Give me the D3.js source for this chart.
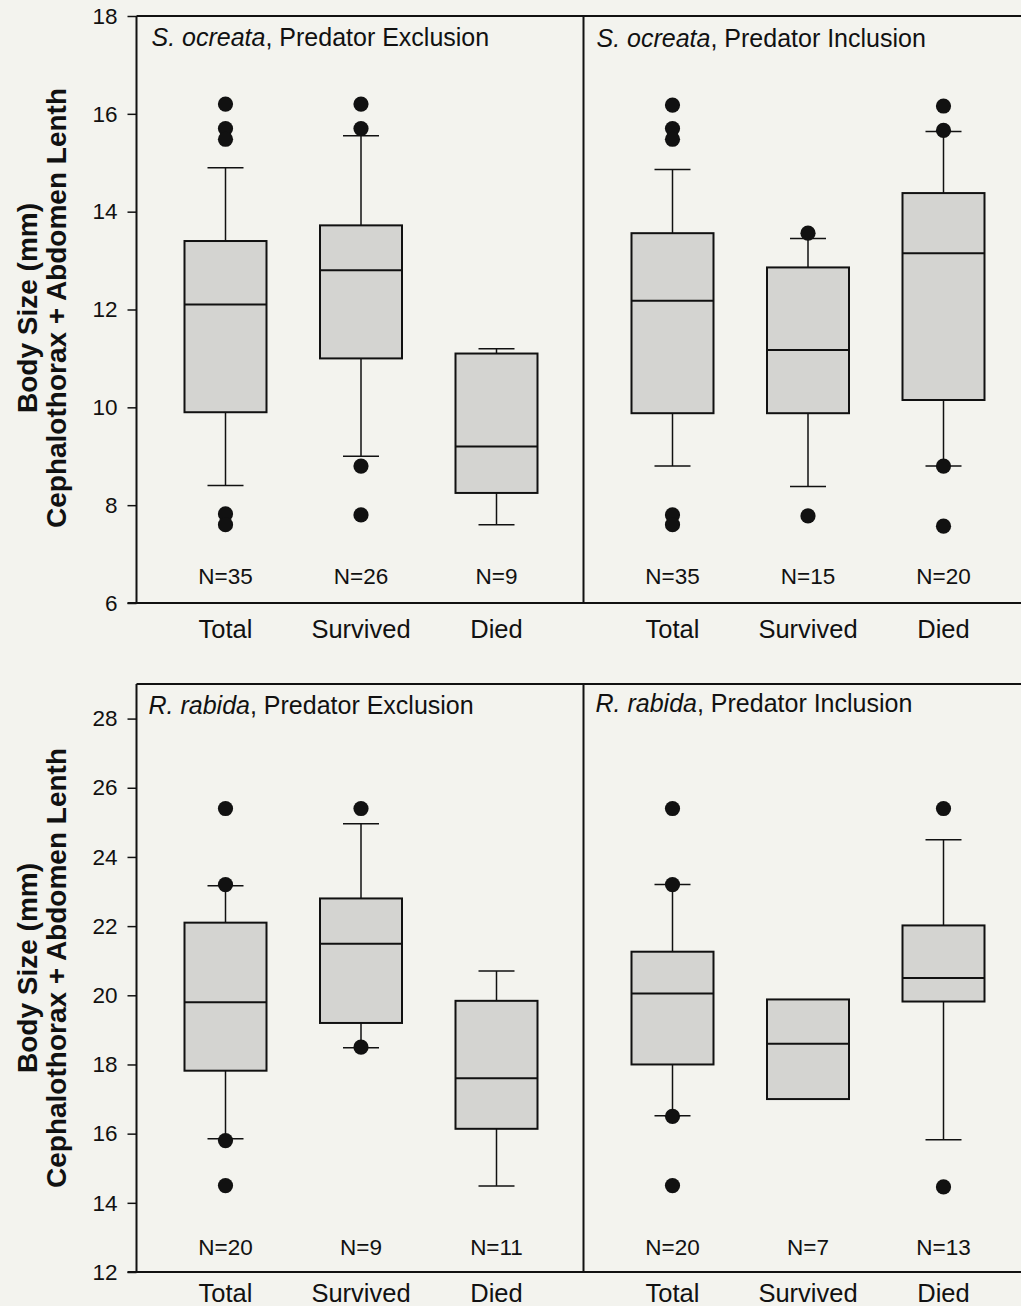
<!DOCTYPE html>
<html>
<head>
<meta charset="utf-8">
<script src="https://cdn.jsdelivr.net/npm/d3@7/dist/d3.min.js"></script>
<style>
  html, body { margin: 0; padding: 0; background: #f3f3ee; }
  svg { display: block; }
  text { font-family: "Liberation Sans", Arial, Helvetica, sans-serif; fill: #111; }
</style>
</head>
<body>
<svg id="chart" width="1021" height="1306"></svg>
<script>
// ---------------- DATA ----------------
const categories = ["Total", "Survived", "Died"];
const yTicksTop = [6, 8, 10, 12, 14, 16, 18];
const yTicksBottom = [12, 14, 16, 18, 20, 22, 24, 26, 28];
const yLabelLine1 = "Body Size (mm)";
const yLabelLine2 = "Cephalothorax + Abdomen Lenth";

// five-number box summaries per category: [lower whisker, Q1, median, Q3, upper whisker]
const soExclTitle = ["S. ocreata", ", Predator Exclusion"];
const soExclBox = [[8.4, 9.9, 12.1, 13.4, 14.9], [9.0, 11.0, 12.8, 13.72, 15.55], [7.6, 8.25, 9.2, 11.1, 11.2]];
const soExclOut = [[16.2, 15.7, 15.48, 7.82, 7.6], [16.2, 15.7, 8.8, 7.8], []];
const soExclN = [35, 26, 9];

const soInclTitle = ["S. ocreata", ", Predator Inclusion"];
const soInclBox = [[8.8, 9.88, 12.18, 13.56, 14.86], [8.38, 9.88, 11.17, 12.86, 13.45], [8.8, 10.15, 13.15, 14.38, 15.64]];
const soInclOut = [[16.18, 15.7, 15.48, 7.8, 7.6], [13.56, 7.78], [16.16, 15.66, 8.8, 7.57]];
const soInclN = [35, 15, 20];

const rrExclTitle = ["R. rabida", ", Predator Exclusion"];
const rrExclBox = [[15.85, 17.82, 19.8, 22.1, 23.17], [18.48, 19.2, 21.49, 22.8, 24.96], [14.49, 16.14, 17.6, 19.84, 20.7]];
const rrExclOut = [[25.4, 23.2, 15.8, 14.5], [25.4, 18.5], []];
const rrExclN = [20, 9, 11];

const rrInclTitle = ["R. rabida", ", Predator Inclusion"];
const rrInclBox = [[16.52, 18.0, 20.05, 21.26, 23.2], [17.0, 17.0, 18.6, 19.88, 19.88], [15.82, 19.82, 20.5, 22.02, 24.5]];
const rrInclOut = [[25.4, 23.2, 16.5, 14.5], [], [25.4, 14.46]];
const rrInclN = [20, 7, 13];

// ---------------- LAYOUT ----------------
const svg = d3.select("#chart");
const W = 1021;
const axisX = 136.5;
const subW = 447;
const boxW = 82;
const capW = 36;
const dotR = 7.6;
const boxFill = "#d4d4d1";
const ink = "#111";

const x = d3.scalePoint().domain(categories).range([89, 360]);

const rows = [
  { domain: [6, 18], range: [603, 16], ticks: yTicksTop, nY: 584, catY: 638,
    subs: [ {title: soExclTitle, box: soExclBox, out: soExclOut, n: soExclN, tdx: 15, ty: 46},
            {title: soInclTitle, box: soInclBox, out: soInclOut, n: soInclN, tdx: 13, ty: 47} ],
    labelCY: 308 },
  { domain: [12, 29], range: [1272, 684], ticks: yTicksBottom, nY: 1255, catY: 1302,
    subs: [ {title: rrExclTitle, box: rrExclBox, out: rrExclOut, n: rrExclN, tdx: 12, ty: 714},
            {title: rrInclTitle, box: rrInclBox, out: rrInclOut, n: rrInclN, tdx: 12, ty: 712} ],
    labelCY: 968 }
];

rows.forEach(row => {
  const y = d3.scaleLinear().domain(row.domain).range(row.range);
  const yTop = row.range[1], yBot = row.range[0];
  const g = svg.append("g");

  // y axis
  const ax = g.append("g").attr("transform", `translate(${axisX},0)`)
    .call(d3.axisLeft(y).tickValues(row.ticks).tickSize(9).tickPadding(10).tickSizeOuter(0));
  ax.select(".domain").remove();
  ax.selectAll(".tick line").attr("stroke", ink).attr("stroke-width", 1.5);
  ax.selectAll(".tick text").style("font-size", "22.5px").style("font-family", '"Liberation Sans", Arial, sans-serif').attr("fill", ink);

  // frame
  g.append("line").attr("x1", axisX).attr("x2", axisX).attr("y1", yTop).attr("y2", yBot).attr("stroke", ink).attr("stroke-width", 2);
  g.append("line").attr("x1", axisX).attr("x2", W + 20).attr("y1", yTop).attr("y2", yTop).attr("stroke", ink).attr("stroke-width", 2);
  g.append("line").attr("x1", axisX - 9).attr("x2", W + 20).attr("y1", yBot).attr("y2", yBot).attr("stroke", ink).attr("stroke-width", 2);
  g.append("line").attr("x1", axisX + subW).attr("x2", axisX + subW).attr("y1", yTop).attr("y2", yBot).attr("stroke", ink).attr("stroke-width", 2);

  row.subs.forEach((s, si) => {
    const ox = axisX + si * subW;
    const sg = g.append("g").attr("transform", `translate(${ox},0)`);

    // title
    const t = sg.append("text").attr("x", s.tdx).attr("y", s.ty).style("font-size", "25px");
    t.append("tspan").style("font-style", "italic").text(s.title[0]);
    t.append("tspan").text(s.title[1]);

    categories.forEach((c, ci) => {
      const b = s.box[ci];
      const cx = x(c);
      // whiskers
      if (b[0] < b[1]) {
        sg.append("line").attr("x1", cx).attr("x2", cx).attr("y1", y(b[1])).attr("y2", y(b[0])).attr("stroke", ink).attr("stroke-width", 1.5);
        sg.append("line").attr("x1", cx - capW/2).attr("x2", cx + capW/2).attr("y1", y(b[0])).attr("y2", y(b[0])).attr("stroke", ink).attr("stroke-width", 1.5);
      }
      if (b[4] > b[3]) {
        sg.append("line").attr("x1", cx).attr("x2", cx).attr("y1", y(b[3])).attr("y2", y(b[4])).attr("stroke", ink).attr("stroke-width", 1.5);
        sg.append("line").attr("x1", cx - capW/2).attr("x2", cx + capW/2).attr("y1", y(b[4])).attr("y2", y(b[4])).attr("stroke", ink).attr("stroke-width", 1.5);
      }
      // box
      sg.append("rect").attr("x", cx - boxW/2).attr("width", boxW)
        .attr("y", y(b[3])).attr("height", y(b[1]) - y(b[3]))
        .attr("fill", boxFill).attr("stroke", ink).attr("stroke-width", 2);
      // median
      sg.append("line").attr("x1", cx - boxW/2).attr("x2", cx + boxW/2).attr("y1", y(b[2])).attr("y2", y(b[2])).attr("stroke", ink).attr("stroke-width", 2);
      // outliers
      sg.selectAll(null).data(s.out[ci]).enter().append("circle")
        .attr("cx", cx).attr("cy", d => y(d)).attr("r", dotR).attr("fill", ink);
      // N label
      sg.append("text").attr("x", cx).attr("y", row.nY).attr("text-anchor", "middle")
        .style("font-size", "22.5px").text("N=" + s.n[ci]);
      // category label
      sg.append("text").attr("x", cx).attr("y", row.catY).attr("text-anchor", "middle")
        .style("font-size", "25.5px").text(c);
    });
  });

  // y-axis label
  const lg = g.append("g").attr("transform", `translate(0,${row.labelCY}) rotate(-90)`);
  lg.append("text").attr("x", 0).attr("y", 37).attr("text-anchor", "middle")
    .style("font-size", "28px").style("font-weight", "bold").text(yLabelLine1);
  lg.append("text").attr("x", 0).attr("y", 66).attr("text-anchor", "middle")
    .style("font-size", "28px").style("font-weight", "bold").text(yLabelLine2);
});
</script>
</body>
</html>
